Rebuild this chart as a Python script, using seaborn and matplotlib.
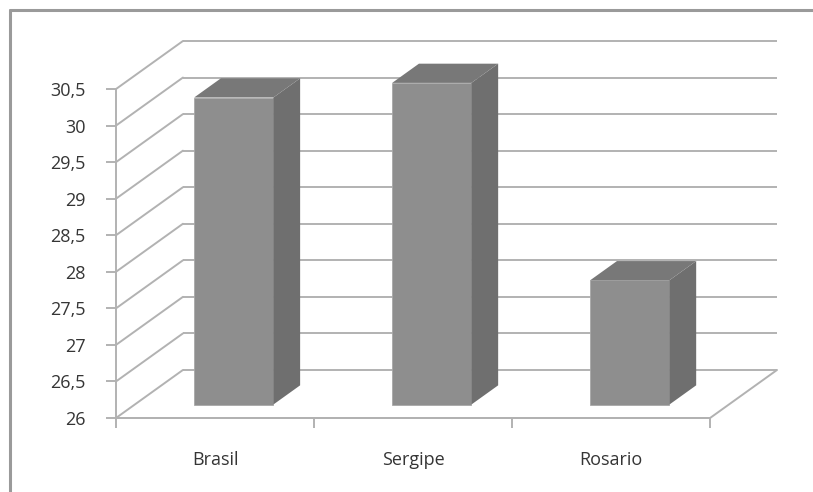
import numpy as np
import pandas as pd
import matplotlib
matplotlib.use("Agg")
import matplotlib.pyplot as plt
from matplotlib.patches import Polygon
from matplotlib.lines import Line2D
import seaborn as sns

# --- Data ---
categories = ["Brasil", "Sergipe", "Rosario"]
values = [30.2, 30.4, 27.7]
y_ticks = [26, 26.5, 27, 27.5, 28, 28.5, 29, 29.5, 30, 30.5]
y_labels = [f"{t:g}".replace(".", ",") for t in y_ticks]

# --- 3D look (oblique projection, in data units) ---
DX = 0.338      # depth offset in category units
DY = 0.657      # depth offset in value units
FRONT = 0.28    # bar front face position as fraction of depth
BAR_DEPTH = 0.40
BAR_WIDTH = 0.40
Y0 = y_ticks[0]
Y1 = y_ticks[-1]

GRID = "#b2b2b2"
FRONT_C = "#8e8e8e"
SIDE_C = "#6f6f6f"
TOP_C = "#787878"
TEXT_C = "#353535"

sns.set_theme(style="white")
plt.rcParams["font.family"] = ["Open Sans", "DejaVu Sans"]

fig = plt.figure(figsize=(8.13, 4.92), dpi=100)
ax = fig.add_axes([116 / 813, 1 - 418 / 492, (777 - 116) / 813, (418 - 41) / 492])

df = pd.DataFrame({"cat": categories, "val": values})
sns.barplot(data=df, x="cat", y="val", width=BAR_WIDTH, color=FRONT_C,
            saturation=1, edgecolor="#a8a8a8", linewidth=0.6, zorder=3, ax=ax)

n = len(categories)
x0, x1 = -0.5, n - 0.5

# back wall + side wall gridlines
for t in y_ticks:
    ax.plot([x0 + DX, x1 + DX], [t + DY, t + DY], color=GRID, lw=1.4,
            zorder=1, clip_on=False, solid_capstyle="butt")
    ax.plot([x0, x0 + DX], [t, t + DY], color=GRID, lw=1.4,
            zorder=1, clip_on=False)
# floor edges
ax.plot([x0, x1], [Y0, Y0], color=GRID, lw=1.4, zorder=1, clip_on=False)
ax.plot([x1, x1 + DX], [Y0, Y0 + DY], color=GRID, lw=1.4, zorder=1, clip_on=False)

# shift the front faces into the box and add the side/top faces
for p, v in zip(ax.patches, values):
    xl = p.get_x() + FRONT * DX
    w = p.get_width()
    bottom = Y0 + FRONT * DY
    top = v + FRONT * DY
    p.set_x(xl)
    p.set_y(bottom)
    p.set_height(v - Y0)
    xr = xl + w
    ddx, ddy = BAR_DEPTH * DX, BAR_DEPTH * DY
    side = Polygon([(xr, bottom), (xr + ddx, bottom + ddy),
                    (xr + ddx, top + ddy), (xr, top)],
                   closed=True, facecolor=SIDE_C, edgecolor="none", zorder=3)
    topf = Polygon([(xl, top), (xl + ddx, top + ddy),
                    (xr + ddx, top + ddy), (xr, top)],
                   closed=True, facecolor=TOP_C, edgecolor="none", zorder=3)
    ax.add_patch(side)
    ax.add_patch(topf)

ax.set_xlim(x0, x1 + DX)
ax.set_ylim(Y0, Y1 + DY)

# axes, ticks and labels
for s in ["top", "right"]:
    ax.spines[s].set_visible(False)
ax.spines["left"].set_bounds(Y0, Y1)
ax.spines["bottom"].set_bounds(x0, x1)
for s in ["left", "bottom"]:
    ax.spines[s].set_color(GRID)
    ax.spines[s].set_linewidth(1.4)
    ax.spines[s].set_zorder(1)

ax.set_yticks(y_ticks)
ax.set_yticklabels(y_labels)
ax.set_xticks(np.arange(n + 1) - 0.5)
ax.set_xticklabels([])
ax.set_xticks(np.arange(n), minor=True)
ax.set_xticklabels(categories, minor=True)
ax.tick_params(axis="y", length=7, width=1.4, color=GRID, pad=15,
               labelsize=13, labelcolor=TEXT_C, left=True)
ax.tick_params(axis="x", which="major", length=7, width=1.4, color=GRID,
               bottom=True, direction="out")
ax.tick_params(axis="x", which="minor", length=0, pad=24,
               labelsize=13, labelcolor=TEXT_C)
ax.set_xlabel("")
ax.set_ylabel("")
ax.grid(False)
ax.patch.set_alpha(0)

# chart area border: only top and left edges fall inside the picture
bx = 9.5 / 813
by = 1 - 9.5 / 492
fig.lines.append(Line2D([bx, 1.0], [by, by], transform=fig.transFigure,
                        color="#9a9a9a", lw=2.2))
fig.lines.append(Line2D([bx, bx], [by, 0.0], transform=fig.transFigure,
                        color="#9a9a9a", lw=2.2))

fig.savefig("out.png", dpi=100)
